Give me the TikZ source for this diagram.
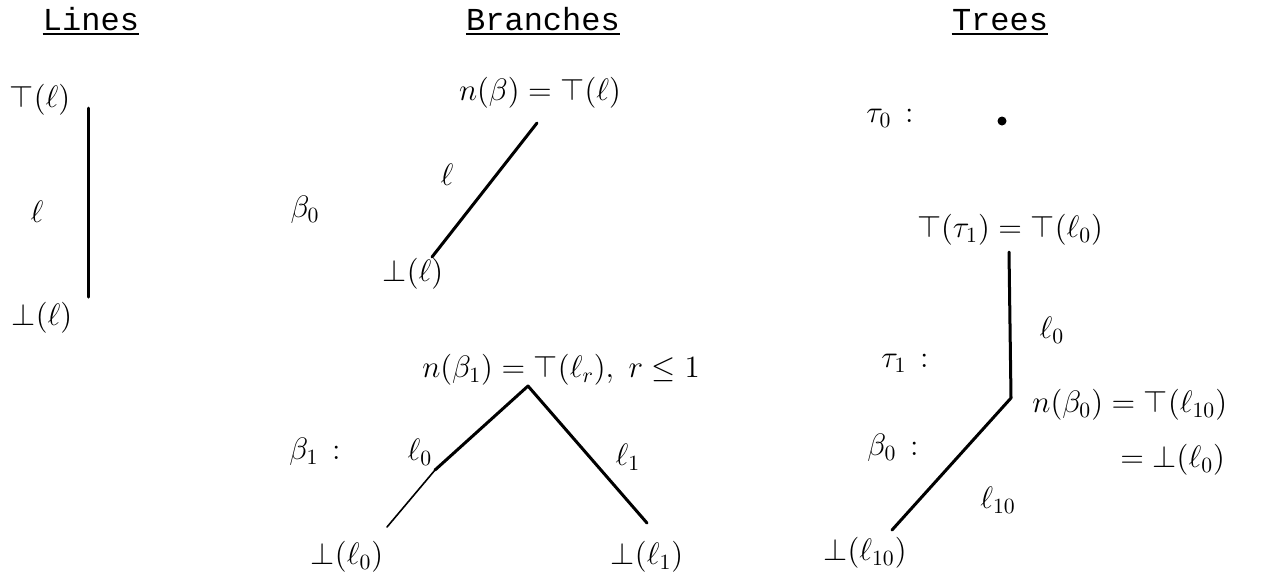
\documentclass[tikz,border=0pt]{standalone}
\usepackage{fix-cm}
\usepackage{fontspec}
\setmonofont{Liberation Mono}
\tikzset{
  hand/.style={font=\fontsize{15.5}{18}\selectfont, inner sep=1pt},
  titletext/.style={font=\fontsize{16}{19}\selectfont\ttfamily, inner sep=0pt, anchor=base},
  uline/.style={line width=0.7pt},
  stroke/.style={line width=1.5pt, line cap=round, line join=round},
  thinstroke/.style={line width=0.8pt, line cap=round},
  bigdot/.style={circle, fill, inner sep=0pt, minimum size=4.5pt}
}
\begin{document}
\begin{tikzpicture}[x=0.5pt,y=-0.5pt]
\useasboundingbox (0,0) rectangle (1262,575);
% titles
\node[titletext] (tl) at (91,30) {Lines};
\draw[uline] ([yshift=-2pt]tl.base west) -- ([yshift=-2pt]tl.base east);
\node[titletext] (tb) at (543,30) {Branches};
\draw[uline] ([yshift=-2pt]tb.base west) -- ([yshift=-2pt]tb.base east);
\node[titletext] (tt) at (1000,30) {Trees};
\draw[uline] ([yshift=-2pt]tt.base west) -- ([yshift=-2pt]tt.base east);

% Lines
\node[hand] (ltop) at (40,100) {$\top(\ell)$};
\node[hand] (lname) at (37,212) {$\ell$};
\node[hand] (lbot) at (42,318) {$\bot(\ell)$};
\coordinate (la) at (88,108);
\coordinate (lb) at (88,297);
\draw[stroke] (la) -- (lb);

% Branches: beta_0
\node[hand] (bzero) at (305,210) {$\beta_0$};
\node[hand] (nbzero) at (540,93) {$n(\beta)=\top(\ell)$};
\coordinate (bza) at (537,123);
\coordinate (bzb) at (432,257);
\draw[stroke] (bza) -- (bzb);
\node[hand] (bzl) at (447,175) {$\ell$};
\node[hand] (bzbot) at (413,274) {$\bot(\ell)$};

% Branches: beta_1
\node[hand] (nbone) at (561,370) {$n(\beta_1)=\top(\ell_r),\ r\le 1$};
\coordinate (boa) at (528,386);
\coordinate (bom) at (435,470);
\coordinate (bol) at (387,527);
\coordinate (bor) at (647,523);
\draw[stroke] (bom) -- (boa) -- (bor);
\draw[thinstroke] (bom) -- (bol);
\node[hand] (bone) at (315,452) {$\beta_1\,:$};
\node[hand] (bol0) at (420,452) {$\ell_0$};
\node[hand] (bol1) at (628,457) {$\ell_1$};
\node[hand] (bobl) at (347,557) {$\bot(\ell_0)$};
\node[hand] (bobr) at (647,557) {$\bot(\ell_1)$};

% Trees
\node[hand] (tzero) at (890,118) {$\tau_0\,:$};
\node[bigdot] (tzdot) at (1002,121) {};
\node[hand] (tonetop) at (1010,230) {$\top(\tau_1)=\top(\ell_0)$};
\coordinate (ta) at (1009,252);
\coordinate (tb) at (1011,398);
\coordinate (tc) at (892,530);
\draw[stroke] (ta) -- (tb) -- (tc);
\node[hand] (tl0) at (1052,330) {$\ell_0$};
\node[hand] (tone) at (905,363) {$\tau_1\,:$};
\node[hand] (tbzero) at (893,448) {$\beta_0\,:$};
\node[hand] (tl10) at (998,500) {$\ell_{10}$};
\node[hand] (tbot) at (865,553) {$\bot(\ell_{10})$};
\node[hand, anchor=west] (tnb) at (1030,405) {$n(\beta_0)=\top(\ell_{10})$};
\node[hand, anchor=west] (teq) at (1118,460) {$=\bot(\ell_0)$};
\end{tikzpicture}
\end{document}
